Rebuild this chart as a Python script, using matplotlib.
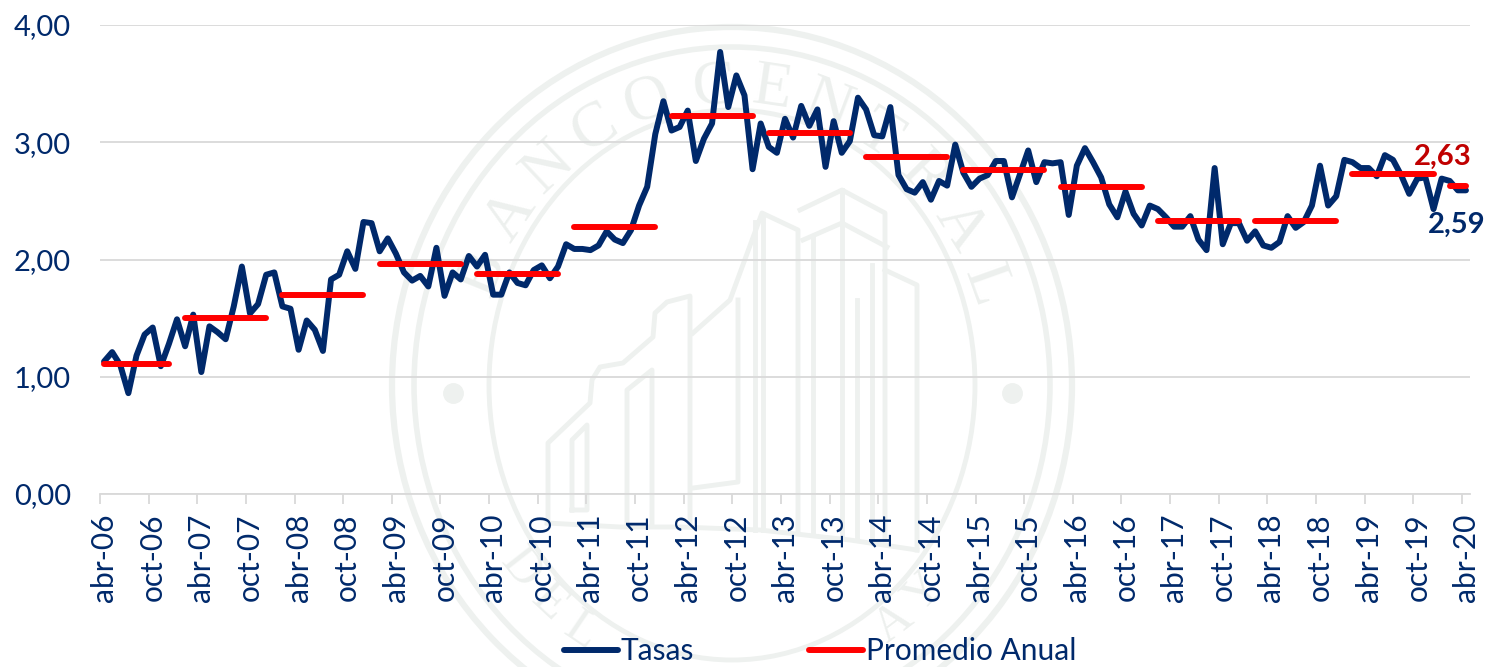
import numpy as np
import matplotlib
matplotlib.use("Agg")
import matplotlib.pyplot as plt
from matplotlib.patches import Ellipse

plt.rcParams["font.family"] = ["Lato", "DejaVu Sans"]

# Tasas mensuales, abr-06 a abr-20
tasas = [
    1.13, 1.21, 1.10, 0.86, 1.18, 1.36, 1.42, 1.09, 1.28, 1.49, 1.26, 1.53, 1.04, 1.43, 1.38, 1.32,
    1.60, 1.94, 1.54, 1.62, 1.87, 1.89, 1.60, 1.58, 1.23, 1.48, 1.40, 1.22, 1.83, 1.87, 2.07, 1.92,
    2.32, 2.31, 2.07, 2.18, 2.05, 1.89, 1.82, 1.86, 1.77, 2.10, 1.69, 1.89, 1.83, 2.03, 1.94, 2.04,
    1.70, 1.70, 1.89, 1.80, 1.78, 1.91, 1.95, 1.84, 1.94, 2.13, 2.09, 2.09, 2.08, 2.12, 2.24, 2.17,
    2.14, 2.25, 2.46, 2.62, 3.07, 3.35, 3.10, 3.13, 3.27, 2.84, 3.03, 3.16, 3.77, 3.30, 3.57, 3.40,
    2.77, 3.16, 2.96, 2.91, 3.20, 3.04, 3.31, 3.14, 3.28, 2.79, 3.18, 2.91, 3.01, 3.38, 3.28, 3.06,
    3.05, 3.30, 2.72, 2.60, 2.57, 2.66, 2.51, 2.67, 2.63, 2.98, 2.74, 2.62, 2.69, 2.72, 2.84, 2.84,
    2.53, 2.73, 2.93, 2.66, 2.83, 2.82, 2.83, 2.38, 2.80, 2.95, 2.83, 2.70, 2.47, 2.36, 2.58, 2.39,
    2.29, 2.46, 2.43, 2.36, 2.28, 2.28, 2.37, 2.17, 2.08, 2.78, 2.13, 2.31, 2.31, 2.16, 2.24, 2.12,
    2.10, 2.15, 2.37, 2.27, 2.32, 2.46, 2.80, 2.46, 2.54, 2.85, 2.83, 2.78, 2.78, 2.71, 2.89, 2.85,
    2.72, 2.56, 2.69, 2.70, 2.43, 2.69, 2.67, 2.59, 2.59,
]

# Promedio anual y el tramo de meses que cubre cada uno
promedio = [1.11, 1.50, 1.70, 1.96, 1.88, 2.28, 3.22, 3.08, 2.87, 2.76, 2.62, 2.33, 2.33, 2.73, 2.63]
inicio = [0, 10, 22, 34, 46, 58, 70, 82, 94, 106, 118, 130, 142, 154, 166]
fin = [8, 20, 32, 44, 56, 68, 80, 92, 104, 116, 128, 140, 152, 164, 168]

etiquetas_x = []
for anio in range(6, 21):
    etiquetas_x.append("abr-%02d" % anio)
    if anio < 20:
        etiquetas_x.append("oct-%02d" % anio)

valores_y = [0, 1, 2, 3, 4]
etiquetas_y = ["0,00", "1,00", "2,00", "3,00", "4,00"]

AZUL = "#00296B"
ROJO = "#FF0000"
GRIS = "#D9D9D9"
SELLO = "#EEF1EF"

fig = plt.figure(figsize=(14.86, 6.67), dpi=100, facecolor="white")

# Sello de fondo, en pixeles de la figura
bg = fig.add_axes([0, 0, 1, 1], zorder=0)
bg.set_xlim(0, 1486)
bg.set_ylim(667, 0)
bg.axis("off")
cx, cy = 732, 385
for rx, ry, w in [(340, 358, 4.5), (318, 338, 4), (243, 275, 3.5)]:
    bg.add_patch(Ellipse((cx, cy), rx * 2, ry * 2, fill=False, ec=SELLO, lw=w))
bg.plot([453, 1012], [393, 393], "o", color=SELLO, ms=14, ls="none")

# Letras del sello: arriba van de izquierda a derecha, abajo solo las que caben
grados = 158
for letra in "BANCO CENTRAL":
    if letra == " ":
        grados -= 2
        continue
    ang = np.radians(grados)
    bg.text(cx + 268 * np.cos(ang), cy - 298 * np.sin(ang), letra, color="#EDF0EE", fontsize=46,
            family="Liberation Serif", rotation=grados - 90, ha="center", va="center")
    grados -= 12.4

for k, letra in enumerate("DEL PARAGUAY"):
    grados = 218 + k * 8.9
    ang = np.radians(grados)
    px, py = cx + 268 * np.cos(ang), cy - 298 * np.sin(ang)
    if letra != " " and py < 640:
        bg.text(px, py, letra, color="#EDF0EE", fontsize=36,
                family="Liberation Serif", rotation=grados + 90, ha="center", va="center")

edificio = [
    [(548, 523), (548, 443), (590, 403), (592, 380), (600, 367), (623, 363), (653, 337), (655, 313), (667, 302), (690, 296), (690, 525)],
    [(572, 510), (572, 440), (587, 425), (587, 510), (572, 510)],
    [(627, 525), (627, 390), (652, 370), (652, 525)],
    [(693, 333), (730, 300), (762, 213), (798, 230), (798, 530)],
    [(693, 488), (738, 482), (738, 300)],
    [(755, 222), (755, 530)],
    [(763, 215), (763, 530)],
    [(813, 236), (813, 535)],
    [(800, 210), (842, 190), (885, 213), (885, 540)],
    [(803, 240), (842, 223), (887, 247)],
    [(842, 190), (842, 535)],
    [(857, 300), (857, 540)],
    [(872, 265), (872, 540)],
    [(885, 270), (917, 285), (917, 550)],
    [(547, 523), (620, 527), (680, 527), (760, 530), (850, 540), (917, 550)],
]
for tramo in edificio:
    xs, ys = zip(*tramo)
    bg.plot(xs, ys, color=SELLO, lw=3.5, solid_joinstyle="round")

# Grafico principal
ax = fig.add_axes([100 / 1486, (667 - 494) / 667, 1370 / 1486, 469 / 667], zorder=1)
ax.patch.set_visible(False)

meses = np.arange(len(tasas)) + 0.5
ax.plot(meses, tasas, color=AZUL, lw=4.3, solid_joinstyle="round", solid_capstyle="round", label="Tasas", zorder=3)
for n, (a, b) in enumerate(zip(inicio, fin)):
    ax.plot(meses[[a, b]], [promedio[n], promedio[n]], color=ROJO, lw=4.3, solid_capstyle="round",
            label="Promedio Anual" if n == 0 else None, zorder=4, clip_on=False)

ax.set_xlim(0, len(tasas))
ax.set_ylim(0, 4)
ax.set_yticks(valores_y, etiquetas_y, color=AZUL, fontsize=21)
ax.tick_params(axis="y", length=0, pad=21)
ax.grid(axis="y", color=GRIS, lw=1.3, zorder=1)
ax.set_axisbelow(True)

pos_x = np.arange(0, len(tasas), 6)
ax.set_xticks(pos_x, [""] * len(pos_x))
ax.set_xticks(pos_x + 0.5, etiquetas_x, minor=True, rotation=90, color=AZUL, fontsize=21.5)
ax.tick_params(axis="x", which="major", length=7, width=1.3, color=GRIS)
ax.tick_params(axis="x", which="minor", length=0, pad=14)

for lado in ["top", "right", "left"]:
    ax.spines[lado].set_visible(False)
ax.spines["bottom"].set_color(GRIS)
ax.spines["bottom"].set_linewidth(1.3)

ax.annotate("2,63", xy=(meses[-1], promedio[-1]), xytext=(-17, 21), textcoords="offset points",
            color="#C00000", fontsize=21, fontweight="bold", ha="center", va="center", annotation_clip=False)
ax.annotate("2,59", xy=(meses[-1], tasas[-1]), xytext=(-7, -25), textcoords="offset points",
            color=AZUL, fontsize=21, fontweight="bold", ha="center", va="center", annotation_clip=False)

fig.legend(loc="lower center", bbox_to_anchor=(820 / 1486, -0.02), ncol=2, frameon=False, fontsize=21.5,
           labelcolor=AZUL, handlelength=1.8, handletextpad=0.1, columnspacing=3.85, borderpad=0)

fig.savefig("out.png", dpi=100)
